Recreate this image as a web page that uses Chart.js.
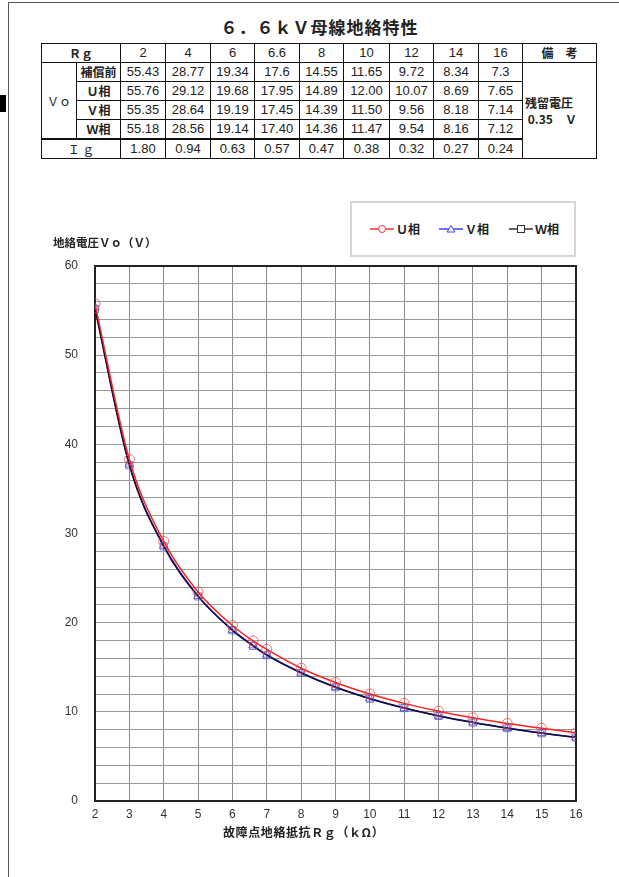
<!DOCTYPE html>
<html>
<head>
<meta charset="utf-8">
<script src="https://cdn.jsdelivr.net/npm/chart.js@4.4.0/dist/chart.umd.min.js"></script>
<style>
body{margin:0;background:#fff;font-family:"Noto Sans CJK JP",sans-serif;}
#page{position:relative;width:619px;height:877px;overflow:hidden;background:#fff;}
#frameL{position:absolute;left:8px;top:2px;width:1px;height:875px;background:#555;}
#frameT{position:absolute;left:8px;top:2px;width:611px;height:1px;background:#555;}
#blk{position:absolute;left:0;top:95px;width:6px;height:17px;background:#000;}
#title{position:absolute;left:0;width:639px;top:14px;text-align:center;font-size:17px;font-weight:bold;color:#222;letter-spacing:1px;}
#tbl{position:absolute;left:41px;top:43px;border-collapse:collapse;table-layout:fixed;width:555px;color:#222;}
#tbl td{border:1px solid #111;height:18px;padding:0;text-align:center;line-height:18px;
        font-family:"Liberation Sans Narrow","Liberation Sans","Noto Sans CJK JP",sans-serif;font-size:13px;}
#tbl .b, #tbl .j{font-family:"Noto Sans CJK JP",sans-serif;font-size:12px;}
#tbl .b{font-weight:bold;}
#tbl tr.ig td{border-top:2px solid #111;}
#tbl .note{text-align:left;vertical-align:middle;line-height:16px;padding-left:2px;font-weight:bold;font-family:"Noto Sans CJK JP",sans-serif;font-size:12px;}
#ytitle{position:absolute;left:53px;top:234px;font-size:11.5px;font-weight:bold;color:#222;}
#xtitle{position:absolute;left:223px;top:823px;font-size:12px;font-weight:bold;color:#222;letter-spacing:0.6px;}
#legend{position:absolute;left:350px;top:201px;width:222px;height:52px;border:2px solid #d6d6d6;background:#fff;}
#legend span.it{position:absolute;top:17px;font-size:12px;font-weight:bold;color:#222;display:flex;align-items:center;}
#legend svg{margin-right:2px;}
#wrap{position:absolute;left:0;top:190px;width:619px;height:687px;}
</style>
</head>
<body>
<div id="page">
  <div id="frameL"></div><div id="frameT"></div><div id="blk"></div>
  <div id="title">６．６ｋＶ母線地絡特性</div>
  <table id="tbl"></table>
  <div id="wrap"><canvas id="myChart"></canvas></div>
  <div id="ytitle">地絡電圧Ｖｏ（Ｖ）</div>
  <div id="xtitle">故障点地絡抵抗Ｒｇ（ｋΩ）</div>
  <div id="legend"></div>
</div>
<script>
// 表のデータ
const tableRg = ['2','4','6','6.6','8','10','12','14','16'];
const tablePre = ['55.43','28.77','19.34','17.6','14.55','11.65','9.72','8.34','7.3'];
const tableU = ['55.76','29.12','19.68','17.95','14.89','12.00','10.07','8.69','7.65'];
const tableV = ['55.35','28.64','19.19','17.45','14.39','11.50','9.56','8.18','7.14'];
const tableW = ['55.18','28.56','19.14','17.40','14.36','11.47','9.54','8.16','7.12'];
const tableIg = ['1.80','0.94','0.63','0.57','0.47','0.38','0.32','0.27','0.24'];

// グラフのデータ
const rgValues = [2,3,4,5,6,6.6,7,8,9,10,11,12,13,14,15,16];
const uValues = [55.76,38.3,29.12,23.45,19.68,17.95,17.0,14.89,13.29,12.00,10.95,10.07,9.33,8.69,8.15,7.65];
const vValues = [55.35,37.75,28.64,23.0,19.19,17.45,16.4,14.39,12.78,11.50,10.44,9.56,8.82,8.18,7.62,7.14];
const wValues = [55.18,37.65,28.56,22.95,19.14,17.40,16.35,14.36,12.75,11.47,10.42,9.54,8.80,8.16,7.60,7.12];
const yTickLabels = [0,10,20,30,40,50,60];

const colWidths = [35,44,45,45,44,45,44,46,44,45,44,74];

function buildTable(){
    const t = document.getElementById("tbl");
    let html = '<colgroup>' + colWidths.map(w => `<col style="width:${w}px">`).join('') + '</colgroup>';
    html += '<tr><td colspan="2" class="b">Ｒｇ</td>' + tableRg.map(v => `<td>${v}</td>`).join('') + '<td class="b">備　考</td></tr>';
    html += '<tr><td rowspan="4" class="j">Ｖｏ</td><td class="b">補償前</td>' + tablePre.map(v => `<td>${v}</td>`).join('') +
            '<td rowspan="5" class="note">残留電圧<br>&nbsp;0.35　Ｖ</td></tr>';
    html += '<tr><td class="b">Ｕ相</td>' + tableU.map(v => `<td>${v}</td>`).join('') + '</tr>';
    html += '<tr><td class="b">Ｖ相</td>' + tableV.map(v => `<td>${v}</td>`).join('') + '</tr>';
    html += '<tr><td class="b">Ｗ相</td>' + tableW.map(v => `<td>${v}</td>`).join('') + '</tr>';
    html += '<tr class="ig"><td colspan="2" class="j">Ｉ ｇ</td>' + tableIg.map(v => `<td>${v}</td>`).join('') + '</tr>';
    t.innerHTML = html;
}

function buildLegend(){
    const items = [
        {label:'Ｕ相', color:'#ff3030', shape:'<circle cx="12" cy="5" r="3.5" fill="#fff" stroke="#ff3030"/>', left:18},
        {label:'Ｖ相', color:'#4040ff', shape:'<polygon points="12,1.5 16,8 8,8" fill="#fff" stroke="#4040ff"/>', left:87},
        {label:'Ｗ相', color:'#333', shape:'<rect x="8.5" y="1.5" width="7" height="7" fill="#fff" stroke="#333"/>', left:157}
    ];
    document.getElementById("legend").innerHTML = items.map(it =>
        `<span class="it" style="left:${it.left}px"><svg width="24" height="10"><line x1="0" y1="5" x2="24" y2="5" stroke="${it.color}" stroke-width="1.5"/>${it.shape}</svg>${it.label}</span>`
    ).join('');
}

function toPoints(arr){
    return rgValues.map((x,i) => ({x:x, y:arr[i]}));
}

const frame = {
    id:'plotFrame',
    beforeDatasetsDraw(chart){
        const {ctx, chartArea} = chart;
        ctx.save();
        ctx.strokeStyle = '#222';
        ctx.lineWidth = 2;
        ctx.strokeRect(chartArea.left, chartArea.top, chartArea.right - chartArea.left, chartArea.bottom - chartArea.top);
        ctx.restore();
    }
};

function loadChart(){
    const ctx = document.getElementById('myChart').getContext('2d');
    new Chart(ctx, {
        type:'line',
        data:{
            datasets:[
                {label:'Ｕ相', data:toPoints(uValues), borderColor:'#ff2020', borderWidth:1.5, order:0,
                 pointStyle:'circle', pointRadius:5, pointBorderColor:'rgba(255,60,60,0.75)', pointBackgroundColor:'rgba(0,0,0,0)', pointBorderWidth:1},
                {label:'Ｖ相', data:toPoints(vValues), borderColor:'#2020ff', borderWidth:1.5, order:2,
                 pointStyle:'triangle', pointRadius:5, pointBorderColor:'rgba(60,60,255,0.75)', pointBackgroundColor:'rgba(0,0,0,0)', pointBorderWidth:1},
                {label:'Ｗ相', data:toPoints(wValues), borderColor:'#101030', borderWidth:1.5, order:1,
                 pointStyle:'rect', pointRadius:5, pointBorderColor:'rgba(90,90,170,0.8)', pointBackgroundColor:'rgba(0,0,0,0)', pointBorderWidth:1}
            ]
        },
        options:{
            responsive:true,
            maintainAspectRatio:false,
            animation:false,
            cubicInterpolationMode:'monotone',
            layout:{padding:{left:65, right:43, top:76, bottom:51}},
            plugins:{legend:{display:false}, tooltip:{enabled:false}},
            scales:{
                x:{
                    type:'linear', min:2, max:16,
                    afterFit:(s) => { s.height = 25; },
                    grid:{color:'#8a8a8a', lineWidth:1, drawTicks:false},
                    border:{display:false},
                    ticks:{stepSize:1, padding:6, color:'#333', font:{family:'Liberation Sans', size:12}}
                },
                y:{
                    min:0, max:60,
                    afterFit:(s) => { s.width = 30; },
                    grid:{color:'#9a9a9a', lineWidth:1, drawTicks:false},
                    border:{display:false},
                    ticks:{stepSize:2, padding:17, color:'#333', font:{family:'Liberation Sans', size:12},
                        callback:(v) => yTickLabels.includes(v) ? v : ''}
                }
            }
        },
        plugins:[frame]
    });
}

window.onload = function(){
    buildTable();
    buildLegend();
    loadChart();
}
</script>
</body>
</html>
